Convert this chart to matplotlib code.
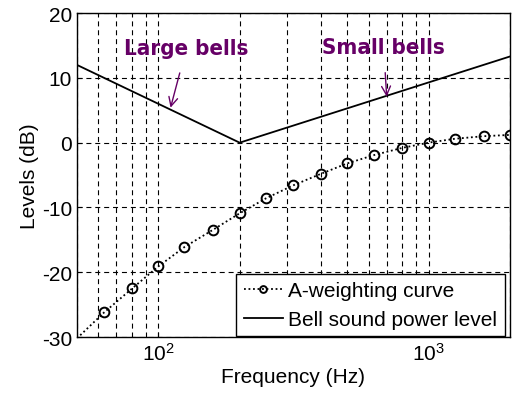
import matplotlib
matplotlib.use("Agg")
import matplotlib.pyplot as plt
from matplotlib import font_manager
import numpy as np

plt.rcParams['font.family'] = ['Liberation Sans', 'DejaVu Sans']
plt.rcParams['mathtext.fontset'] = 'custom'
plt.rcParams['mathtext.rm'] = 'Liberation Sans'
plt.rcParams['mathtext.it'] = 'Liberation Sans'
plt.rcParams['axes.unicode_minus'] = False

# A-weighting curve (1/3-octave bands)
freq_a = [50, 63, 80, 100, 125, 160, 200, 250, 315, 400, 500, 630, 800, 1000, 1250, 1600, 2000]
a_weight = [-30.2, -26.2, -22.5, -19.1, -16.1, -13.4, -10.9, -8.6, -6.6, -4.8, -3.2, -1.9, -0.8, 0.0, 0.6, 1.0, 1.2]

# Bell sound power level
freq_bell = [50, 200, 2000]
bell_level = [12.0, 0.0, 13.3]

fig = plt.figure(figsize=(5.13, 4.02), dpi=100)
ax = fig.add_axes([0.150, 0.159, 0.844, 0.806])

ax.plot(freq_a, a_weight, color='black', linestyle=(0, (1, 1.5)), linewidth=1.3,
        marker='o', markersize=7, markerfacecolor='none', markeredgewidth=1.4,
        markevery=list(range(1, len(freq_a))), label='A-weighting curve')
ax.plot(freq_bell, bell_level, color='black', linewidth=1.3, label='Bell sound power level')

ax.set_xscale('log')
ax.set_xlim(50, 2000)
ax.set_ylim(-30, 20)
ax.set_yticks([-30, -20, -10, 0, 10, 20])
ax.set_xticks([100, 1000])
ax.set_xticklabels([r'$10^2$', r'$10^3$'])
ax.tick_params(axis='both', which='both', direction='in', labelsize=15)
ax.tick_params(axis='x', which='minor', labelbottom=False)

ax.grid(True, which='both', axis='x', color='black', linestyle=(0, (4.5, 3.5)), linewidth=0.8)
ax.grid(True, which='major', axis='y', color='black', linestyle=(0, (4.5, 3.5)), linewidth=0.8)

for s in ax.spines.values():
    s.set_linewidth(1.0)

ax.set_xlabel('Frequency (Hz)', fontsize=15, labelpad=2)
ax.set_ylabel('Levels (dB)', fontsize=15, labelpad=2)

purple = '#660066'
fp = font_manager.FontProperties(family='DejaVu Sans', weight='bold', stretch='condensed', size=16)
ax.annotate('Large bells', xy=(111, 5.4), xytext=(127, 14.6), fontproperties=fp,
            color=purple, ha='center', va='center',
            arrowprops=dict(arrowstyle='->', color=purple, lw=1.0, shrinkA=9, shrinkB=0))
ax.annotate('Small bells', xy=(700, 7.1), xytext=(682, 14.7), fontproperties=fp,
            color=purple, ha='center', va='center',
            arrowprops=dict(arrowstyle='->', color=purple, lw=1.0, shrinkA=9, shrinkB=0))

leg = ax.legend(loc='lower right', bbox_to_anchor=(0.988, 0.003), fontsize=15, frameon=True,
                fancybox=False, borderaxespad=0, edgecolor='black', framealpha=1,
                handlelength=1.9, borderpad=0.35, labelspacing=0.45, handletextpad=0.25,
                markerscale=0.7)
leg.get_frame().set_linewidth(1.0)

fig.savefig('out.png', dpi=100)
